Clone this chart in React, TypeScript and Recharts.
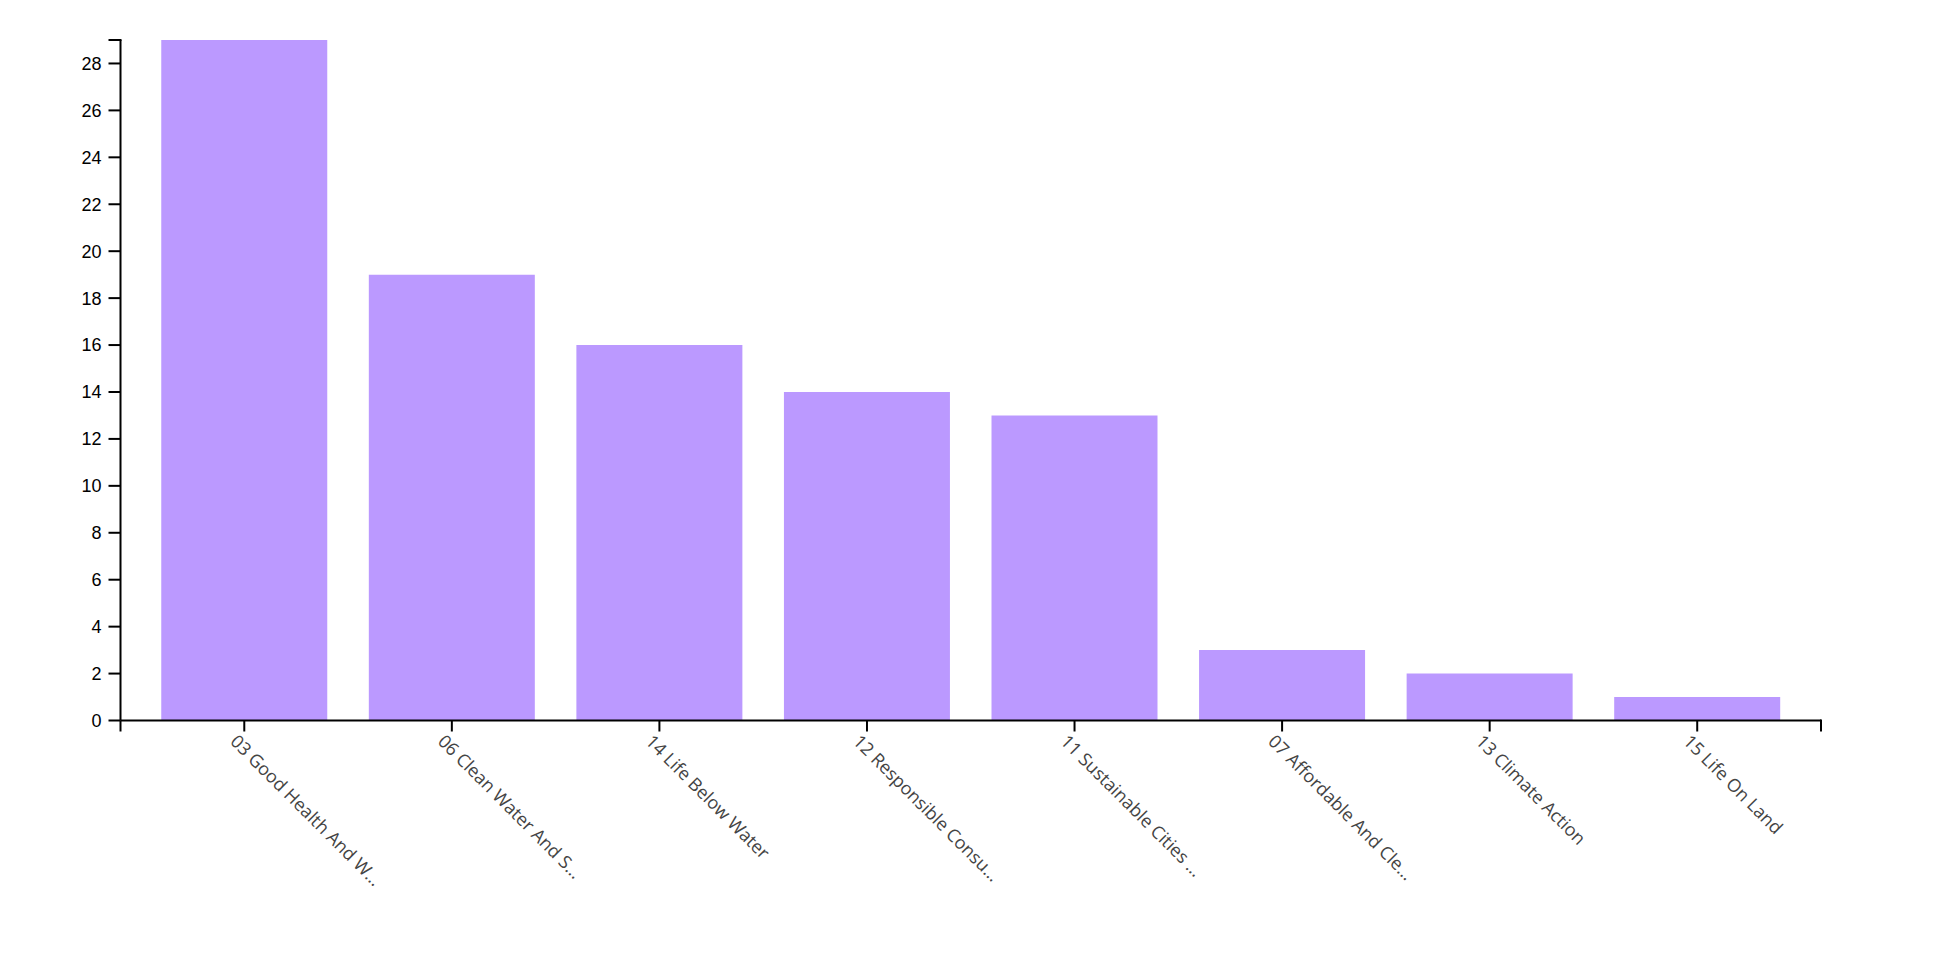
import React from 'react';
import * as Recharts from 'recharts';
import { BarChart, Bar, XAxis, YAxis } from 'recharts';

// SDG categories as shown on the axis (already shortened like in the source)
const goals = [
  '03 Good Health And W…',
  '06 Clean Water And S…',
  '14 Life Below Water',
  '12 Responsible Consu…',
  '11 Sustainable Cities …',
  '07 Affordable And Cle…',
  '13 Climate Action',
  '15 Life On Land',
];
const counts = [29, 19, 16, 14, 13, 3, 2, 1];
const yTicks = [0, 2, 4, 6, 8, 10, 12, 14, 16, 18, 20, 22, 24, 26, 28];
const yMax = 29;

const data = goals.map((goal, i) => ({ goal, count: counts[i] }));

const usePlotAreaSafe: () => { x: number; y: number; width: number; height: number } | undefined =
  (Recharts as any).usePlotArea || (() => undefined);

// d3-style outer ticks at the ends of both axes
const AxisCaps: React.FC = () => {
  const area = usePlotAreaSafe();
  if (!area) return null;
  const { x, y, width, height } = area;
  const bottom = y + height;
  return (
    <g stroke="#000" strokeWidth={2}>
      <line x1={x - 12} y1={y} x2={x + 1} y2={y} />
      <line x1={x} y1={bottom} x2={x} y2={bottom + 11} />
      <line x1={x + width} y1={bottom - 1} x2={x + width} y2={bottom + 11} />
    </g>
  );
};

const App: React.FC = () => {
  return (
    <div style={{ width: 1900, height: 940 }}>
      <BarChart
        width={1900}
        height={940}
        data={data}
        margin={{ top: 32, right: 87, bottom: 27.5, left: 52.5 }}
      >
        <XAxis
          dataKey="goal"
          interval={0}
          angle={45}
          height={200}
          padding={{ left: 20, right: 20 }}
          tickSize={11}
          tickMargin={2}
          axisLine={{ stroke: '#000', strokeWidth: 2 }}
          tickLine={{ stroke: '#000', strokeWidth: 2 }}
          tick={{ textAnchor: 'start', dx: -6, fontSize: 18, fontFamily: 'Open Sans', fill: '#444' }}
        />
        <YAxis
          domain={[0, yMax]}
          ticks={yTicks}
          interval={0}
          width={60}
          tickSize={12}
          tickMargin={7}
          axisLine={{ stroke: '#000', strokeWidth: 2 }}
          tickLine={{ stroke: '#000', strokeWidth: 2 }}
          tick={{ fontSize: 18, fontFamily: 'Liberation Sans', fill: '#000' }}
        />
        <Bar dataKey="count" fill="#bb99ff" isAnimationActive={false} />
        <AxisCaps />
      </BarChart>
    </div>
  );
};

export default App;
